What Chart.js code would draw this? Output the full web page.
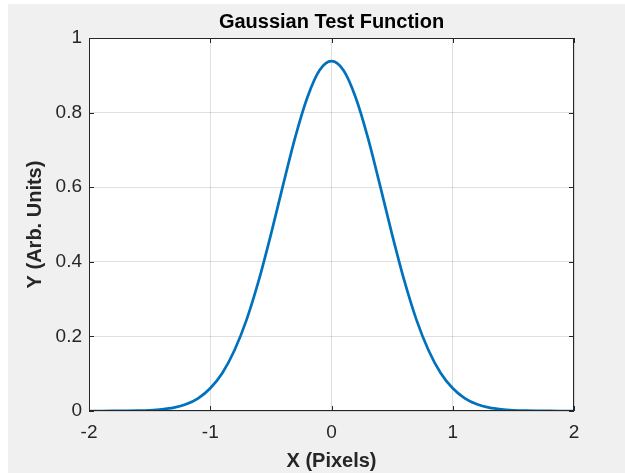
<!DOCTYPE html>
<html>
<head>
<meta charset="utf-8">
<script src="https://cdn.jsdelivr.net/npm/chart.js@4/dist/chart.umd.min.js"></script>
<style>
    html, body { margin: 0; padding: 0; background: #ffffff; }
    #wrap { width: 625px; height: 473px; position: relative; }
</style>
</head>
<body>
<div id="wrap"><canvas id="gaussChart" width="625" height="473"></canvas></div>
<script>
    // 曲线数据
    const xValues = [
        -2.0, -1.9, -1.8, -1.7, -1.6, -1.5, -1.4, -1.3, -1.2, -1.1,
        -1.0, -0.9, -0.8, -0.7, -0.6, -0.5, -0.4, -0.3, -0.2, -0.1,
        0.0,
        0.1, 0.2, 0.3, 0.4, 0.5, 0.6, 0.7, 0.8, 0.9, 1.0,
        1.1, 1.2, 1.3, 1.4, 1.5, 1.6, 1.7, 1.8, 1.9, 2.0
    ];
    const yValues = [
        0.000, 0.000, 0.0001, 0.0003, 0.0008, 0.002, 0.0044, 0.009, 0.018, 0.034,
        0.061, 0.102, 0.163, 0.245, 0.350, 0.473, 0.605, 0.733, 0.840, 0.913,
        0.938,
        0.913, 0.840, 0.733, 0.605, 0.473, 0.350, 0.245, 0.163, 0.102, 0.061,
        0.034, 0.018, 0.009, 0.0044, 0.002, 0.0008, 0.0003, 0.0001, 0.000, 0.000
    ];
    const xTicks = [-2, -1, 0, 1, 2];
    const yTicks = [0, 0.2, 0.4, 0.6, 0.8, 1];

    const titleText = 'Gaussian Test Function';
    const xLabel = 'X (Pixels)';
    const yLabel = 'Y (Arb. Units)';

    const axisColor = '#262626';
    const gridColor = 'rgba(38,38,38,0.15)';
    const fontFamily = '"Liberation Sans", Arial, Helvetica, sans-serif';

    // 背景：左上角留白，其余为灰色
    const backgroundPlugin = {
        id: 'figureBackground',
        beforeDraw(chart) {
            const ctx = chart.ctx;
            ctx.save();
            ctx.fillStyle = '#ffffff';
            ctx.fillRect(0, 0, chart.width, chart.height);
            ctx.fillStyle = '#f0f0f0';
            ctx.fillRect(8, 4, chart.width - 8, chart.height - 4);
            const a = chart.chartArea;
            ctx.fillStyle = '#ffffff';
            ctx.fillRect(a.left, a.top, a.right - a.left, a.bottom - a.top);
            ctx.restore();
        }
    };

    // 坐标框和朝内的刻度线
    const boxPlugin = {
        id: 'axesBox',
        afterDraw(chart) {
            const ctx = chart.ctx;
            const a = chart.chartArea;
            const xs = chart.scales.x;
            const ys = chart.scales.y;
            const len = 5;
            ctx.save();
            ctx.strokeStyle = axisColor;
            ctx.lineWidth = 1;
            ctx.beginPath();
            ctx.rect(a.left + 0.5, a.top + 0.5, a.right - a.left - 1, a.bottom - a.top - 1);
            xTicks.forEach(v => {
                const px = Math.round(xs.getPixelForValue(v)) + 0.5;
                ctx.moveTo(px, a.bottom);
                ctx.lineTo(px, a.bottom - len);
                ctx.moveTo(px, a.top);
                ctx.lineTo(px, a.top + len);
            });
            yTicks.forEach(v => {
                const py = Math.round(ys.getPixelForValue(v)) + 0.5;
                ctx.moveTo(a.left, py);
                ctx.lineTo(a.left + len, py);
                ctx.moveTo(a.right, py);
                ctx.lineTo(a.right - len, py);
            });
            ctx.stroke();
            ctx.restore();
        }
    };

    function fixPadding(scale) {
        scale.paddingLeft = 0;
        scale.paddingRight = 0;
        scale.paddingTop = 0;
        scale.paddingBottom = 0;
    }

    const points = xValues.map((x, i) => ({ x: x, y: yValues[i] }));

    new Chart(document.getElementById('gaussChart').getContext('2d'), {
        type: 'line',
        data: {
            datasets: [{
                data: points,
                borderColor: '#0072BD',
                borderWidth: 2.7,
                pointRadius: 0,
                fill: false,
                cubicInterpolationMode: 'monotone'
            }]
        },
        options: {
            responsive: false,
            animation: false,
            events: [],
            layout: { padding: { left: 0, right: 51, top: 0, bottom: 0 } },
            plugins: {
                legend: { display: false },
                tooltip: { enabled: false },
                title: {
                    display: true,
                    fullSize: false,
                    text: titleText,
                    color: '#000000',
                    font: { family: fontFamily, size: 20, weight: 'bold', lineHeight: 1.2 },
                    padding: { top: 10, bottom: 4 }
                }
            },
            scales: {
                x: {
                    type: 'linear',
                    min: -2,
                    max: 2,
                    afterBuildTicks(scale) {
                        scale.ticks = xTicks.map(v => ({ value: v }));
                    },
                    afterFit(scale) {
                        scale.height = 62;
                        fixPadding(scale);
                    },
                    grid: { color: gridColor, drawTicks: false },
                    border: { display: false },
                    ticks: {
                        color: axisColor,
                        padding: 10,
                        maxRotation: 0,
                        font: { family: fontFamily, size: 19 },
                        callback: v => String(v)
                    },
                    title: {
                        display: true,
                        text: xLabel,
                        color: axisColor,
                        font: { family: fontFamily, size: 20, weight: 'bold', lineHeight: 1.2 },
                        padding: { top: 0, bottom: 0 }
                    }
                },
                y: {
                    type: 'linear',
                    min: 0,
                    max: 1,
                    afterBuildTicks(scale) {
                        scale.ticks = yTicks.map(v => ({ value: v }));
                    },
                    afterFit(scale) {
                        scale.width = 89;
                        fixPadding(scale);
                    },
                    grid: { color: gridColor, drawTicks: false },
                    border: { display: false },
                    ticks: {
                        color: axisColor,
                        padding: 7,
                        font: { family: fontFamily, size: 19 },
                        callback: v => String(v)
                    },
                    title: {
                        display: true,
                        text: yLabel,
                        color: axisColor,
                        font: { family: fontFamily, size: 20, weight: 'bold', lineHeight: 1.2 },
                        padding: { top: 23, bottom: 0 }
                    }
                }
            }
        },
        plugins: [backgroundPlugin, boxPlugin]
    });
</script>
</body>
</html>
